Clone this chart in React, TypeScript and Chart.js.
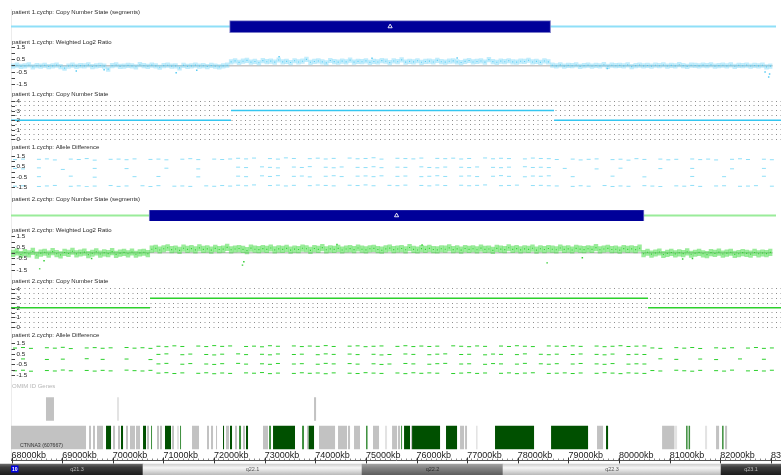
import React, { useEffect, useRef } from 'react';
import { Chart, registerables } from 'chart.js';

Chart.register(...registerables);

const W = 781;
const LEFT = 11;
const FONT = 'Arial, "Liberation Sans", Helvetica, sans-serif';

// ---- genomic view (kb) ----
const VIEW_START = 67990;
const VIEW_END = 83200;

// ---- copy number segments ----
const P1_SEG_START = [67990, 72336, 78717];
const P1_SEG_END = [72336, 78717, 83200];
const P1_SEG_CN = [2, 3, 2];
const P2_SEG_START = [67990, 70736, 80574];
const P2_SEG_END = [70736, 80574, 83200];
const P2_SEG_CN = [2, 3, 2];

// ---- tick marks ----
const LOG2_TICKS = [1.5, 1, 0.5, 0, -0.5, -1, -1.5];
const LOG2_TICK_LABELS = ['1.5', '', '0.5', '', '-0.5', '', '-1.5'];
const CN_TICKS = [4, 3.5, 3, 2.5, 2, 1.5, 1, 0.5, 0];
const CN_TICK_LABELS = ['4', '', '3', '', '2', '', '1', '', '0'];
const RULER_MINOR_KB = 100;
const RULER_LABEL_KB = [68000, 69000, 70000, 71000, 72000, 73000, 74000, 75000, 76000, 77000, 78000, 79000, 80000, 81000, 82000, 83000];
const RULER_LABELS = RULER_LABEL_KB.map((v) => `${v}kb`);

// ---- weighted log2 ratio probes (kb grid) ----
const LOG2_START = 68030;
const LOG2_STEP = 79.2;
const P1_LOG2 = [
  -.05, .02, -.08, -.03, .04, -.12, -.02, -.06, .01, -.09,
  -.04, .03, -.1, -.22, -.05, .02, -.07, -.01, -.04, .05,
  -.09, -.03, .0, -.06, -.3, -.02, .04, -.08, -.05, .01,
  -.03, -.11, .06, -.02, -.07, .03, -.04, -.15, -.01, .02,
  -.06, -.03, -.2, .01, -.08, -.04, .03, -.05, -.02, -.09,
  .0, -.06, -.12, -.03, .02,
  .3, .38, .25, .35, .42, .28, .33, .22, .4, .31,
  .36, .27, .45, .3, .34, .24, .39, .29, .35, .5,
  .26, .33, .37, .3, .21, .41, .32, .28, .36, .3,
  .44, .27, .34, .31, .38, .25, .33, .29, .4, .35,
  .23, .37, .31, .46, .28, .34, .3, .39, .26, .33,
  .36, .29, .42, .31, .27, .35, .38, .3, .24, .34,
  .41, .29, .33, .37, .28, .48, .32, .26, .36, .31,
  .39, .3, .27, .35, .33, .43, .29, .34, .25, .37,
  .3,
  .02, -.04, .05, -.06, .01, -.02, .04, -.08, -.01, .03,
  -.05, .0, -.03, .06, -.07, .02, -.02, .01, -.04, .05,
  -.1, -.01, .03, -.03, .0, -.06, .02, -.02, .04, -.05,
  .01, -.03, .06, -.01, -.08, .02, .0, -.04, .03, -.02,
  .05, -.06, -.01, .02, -.03, .04, -.07, .01, -.02, .03,
  -.05, .0, -.04, .02, -.12, -.06,
];
const P1_LOG2_OUT_KB = [69294, 69850, 71289, 71700, 73344, 75200, 76900, 79900, 83050, 83122, 83140];
const P1_LOG2_OUT_VAL = [-.45, -.35, -.6, -.4, .72, .6, .62, -.25, -.55, -.95, -.7];

const P2_LOG2 = [
  -.05, .08, -.15, .02, -.1, .12, -.2, -.03, .05, -.12,
  .1, -.08, -.18, .03, -.06, .14, -.1, -.02, .06, -.16,
  -.04, .09, -.11, .0, -.07, .11, -.14, -.03, .04, -.09,
  .07, -.13, -.01, .05, -.08,
  .32, .4, .25, .36, .45, .28, .34, .22, .41, .3,
  .37, .26, .44, .31, .35, .24, .39, .29, .33, .48,
  .27, .34, .38, .3, .2, .42, .32, .28, .37, .31,
  .43, .26, .35, .3, .39, .24, .33, .29, .41, .36,
  .22, .38, .3, .46, .27, .35, .31, .4, .25, .34,
  .37, .28, .43, .32, .26, .36, .39, .29, .23, .35,
  .42, .28, .34, .38, .27, .47, .31, .25, .37, .3,
  .4, .29, .26, .36, .32, .44, .28, .35, .24, .38,
  .31, .36, .27, .42, .3, .34, .22, .39, .33, .28,
  .45, .3, .37, .26, .35, .31, .41, .24, .36, .29,
  .38, .32, .27, .43, .3, .35, .25, .4, .33, .28,
  .36, .3, .46, .27, .34, .39, .29, .32, .24, .37,
  .31, .35, .28, .41,
  -.08, .05, -.12, -.02, .07, -.15, -.05, .03, -.1, .0,
  -.07, .09, -.13, -.04, .04, -.09, -.16, .02, -.06, .06,
  -.11, -.03, .05, -.14, -.08, .01, -.05, -.12, .03, -.09,
  -.02, -.07, .04,
];
const P2_LOG2_OUT_KB = [68563, 68650, 69600, 72613, 72640, 74500, 76200, 78697, 79400, 81404, 81600];
const P2_LOG2_OUT_VAL = [-1.45, -.7, -.5, -1.1, -.8, .75, .7, -.9, -.45, -.55, -.5];

// ---- allele difference bands (kb grid, empty = no call) ----
const AD_START = 68070;
const AD_STEP = 158.4;
const P1_AD_TOP = [
  1.15,1.2,,1.18,1.22,1.12,,1.2,1.16,1.25,1.1,,1.18,1.2,1.14,1.22,,1.17,1.2,1.13,,1.19,1.24,1.15,,1.2,1.16,1.21,
  1.28,1.22,1.3,,1.25,1.2,1.32,1.26,,1.24,1.29,1.21,1.27,,1.3,1.23,1.26,1.33,1.2,,1.28,1.25,1.22,1.3,,1.27,1.24,1.29,1.21,1.26,,1.31,1.23,1.28,1.25,,1.22,1.3,1.26,1.24,
  1.16,,1.2,1.12,1.18,1.22,,1.15,1.19,1.1,1.24,1.17,,1.2,1.13,1.18,,1.21,1.15,1.2,1.12,,1.18,1.23,1.16,,1.19,1.14,
];
const P1_AD_MIDHI = [
  .3,.25,,.35,,,.2,,,,.3,,,,.28,,,,,.32,,,,.25,,,,,
  .42,.38,,.45,.4,.35,,.43,.39,.47,,.41,.36,.44,,.4,.38,.46,.37,,.42,.4,,.45,.39,.36,.43,,.41,.38,.44,,.4,.37,.42,,.46,.39,.41,.38,
  ,.3,,,,.25,,,.32,,,,,.28,,,,.3,,,,,.26,,,,.3,
];
const P1_AD_MIDLO = [
  ,,,-.5,,,,-.45,,,-.55,,,,,-.5,,,-.48,,,,,-.52,,,,,
  -.45,-.5,,-.42,-.48,-.4,,-.47,-.44,-.52,,-.46,-.41,-.49,,-.45,-.43,-.5,-.42,,-.47,-.44,,-.5,-.46,-.41,-.48,,-.45,-.43,-.49,,-.46,-.4,-.47,,-.51,-.44,-.46,-.42,
  ,,-.5,,,,,-.45,,,,-.52,,,,,,-.48,,,,-.5,,,,,-.46,
];
const P1_AD_BOTTOM = [
  -1.42,-1.38,,-1.45,-1.4,-1.35,,-1.43,-1.39,-1.47,-1.41,,-1.36,-1.44,-1.4,,-1.38,-1.46,-1.37,,-1.42,-1.4,-1.44,,-1.39,-1.43,-1.36,-1.41,
  -1.33,-1.38,-1.3,,-1.36,-1.32,-1.4,-1.34,,-1.37,-1.31,-1.35,-1.39,,-1.33,-1.36,-1.3,-1.38,,-1.34,-1.37,-1.32,,-1.35,-1.39,-1.31,-1.36,,-1.33,-1.38,-1.34,-1.3,,-1.37,-1.35,-1.32,,-1.36,-1.34,-1.38,
  -1.4,,-1.44,-1.38,-1.42,,-1.36,-1.45,-1.4,-1.43,,-1.37,-1.41,-1.46,,-1.39,-1.42,-1.35,-1.44,,-1.4,-1.38,,-1.43,-1.41,-1.37,,-1.42,
];
const P2_AD_TOP = [
  1.05,1.1,1.02,,1.08,1.04,1.12,1.0,,1.06,1.09,1.03,1.07,,1.1,1.04,1.08,1.02,
  1.22,1.18,1.26,1.2,,1.24,1.19,1.28,1.21,1.25,,1.2,1.23,1.17,1.27,1.22,,1.25,1.19,1.24,1.21,1.28,1.2,,1.23,1.26,1.18,1.22,1.25,,1.21,1.27,1.19,1.24,1.2,1.23,,1.26,1.22,1.18,1.25,1.21,,1.24,1.2,1.27,1.22,1.19,,1.25,1.23,1.2,1.26,1.21,,1.24,1.18,1.22,1.27,1.2,1.23,1.25,
  1.06,1.02,,1.09,1.04,1.1,1.01,,1.07,1.03,1.08,,1.05,1.1,1.02,1.06,
];
const P2_AD_MIDHI = [
  ,.02,,,-.03,,.0,,,.04,,-.02,,,.01,,,-.04,
  .45,.5,,.42,.48,,.44,.4,.47,,.5,.43,,.46,.41,.49,,.44,.47,,.42,.5,.45,,.48,.43,,.46,.4,.44,,.49,.45,,.42,.47,.5,,.44,.46,,.41,.48,.45,,.43,.5,,.46,.42,.47,,.44,.49,,.45,.41,.48,,.43,.46,.44,
  ,.03,,-.02,,,.01,,-.04,,,.02,,,-.01,
];
const P2_AD_MIDLO = [
  ,,,,,,,,,,,,,,,,,,
  -.45,-.4,,-.48,-.42,,-.46,-.5,-.43,,-.4,-.47,,-.44,-.49,-.41,,-.46,-.43,,-.48,-.4,-.45,,-.42,-.47,,-.44,-.5,-.46,,-.41,-.45,,-.48,-.43,-.4,,-.46,-.44,,-.49,-.42,-.45,,-.47,-.4,,-.44,-.48,-.43,,-.46,-.41,,-.45,-.49,-.42,,-.47,-.44,-.46,
];
const P2_AD_BOTTOM = [
  -1.1,-1.05,-1.14,,-1.08,-1.12,-1.03,-1.1,,-1.07,-1.13,-1.06,-1.11,,-1.04,-1.09,-1.12,-1.06,
  -1.32,-1.28,-1.36,-1.3,,-1.34,-1.29,-1.38,-1.31,-1.35,,-1.3,-1.33,-1.27,-1.37,-1.32,,-1.35,-1.29,-1.34,-1.31,-1.38,-1.3,,-1.33,-1.36,-1.28,-1.32,-1.35,,-1.31,-1.37,-1.29,-1.34,-1.3,-1.33,,-1.36,-1.32,-1.28,-1.35,-1.31,,-1.34,-1.3,-1.37,-1.32,-1.29,,-1.35,-1.33,-1.3,-1.36,-1.31,,-1.34,-1.28,-1.32,-1.37,-1.3,-1.33,-1.35,
  -1.08,-1.12,,-1.05,-1.1,-1.14,-1.06,,-1.09,-1.13,-1.04,,-1.11,-1.07,-1.12,-1.05,
];

// ---- OMIM genes [start kb, end kb] ----
const GENE_ROWS = ['upper', 'lower'];
const GENES_UPPER_GRAY = [[68681, 68839], [73976, 74016]];
const GENES_UPPER_LIGHT = [[70084, 70124]];
const GENES_LOWER_GRAY = [
  [67990, 69472], [69531, 69570], [69610, 69649], [69689, 69807], [70005, 70045], [70104, 70144],
  [70262, 70301], [70341, 70440], [70459, 70538], [70677, 70716], [70874, 70914], [70933, 70973],
  [71171, 71210], [71566, 71704], [71862, 71901], [71941, 71981], [72040, 72060], [72237, 72297],
  [72415, 72455], [72573, 72613], [72968, 73067], [73837, 73857], [74075, 74391], [74450, 74628],
  [74647, 74687], [74766, 74884], [75141, 75260], [75517, 75616], [75635, 75675], [75892, 75912],
  [76860, 76939], [76959, 76998], [79566, 79685], [80851, 81088], [81917, 81977], [82095, 82135],
];
const GENES_LOWER_LIGHT = [[71269, 71309], [75378, 75418], [77176, 77206], [81088, 81147], [81700, 81740]];
const GENES_LOWER_DARK = [
  [69867, 69966], [70163, 70203], [70598, 70657], [71032, 71151], [72178, 72198], [72316, 72356],
  [72632, 72672], [73166, 73600], [73867, 73976], [75754, 75872], [75912, 76465], [76583, 76801],
  [77551, 78322], [78658, 79389], [79744, 79784],
];
const GENES_LOWER_GREEN = [
  [70756, 70775], [71329, 71348], [72494, 72534], [73087, 73126], [73739, 73778], [75003, 75033],
  [75695, 75714], [81325, 81355], [81375, 81404], [82036, 82066],
];
const GENE_LABELS = ['CTNNA3 (607667)'];
const GENE_LABEL_START = [67990];

// ---- cytobands ----
const CHROM = '10';
const BAND_NAMES = ['q21.3', 'q22.1', 'q22.2', 'q22.3', 'q23.1'];
const BAND_START = [66000, 70598, 74924, 77709, 82016];
const BAND_END = [70598, 74924, 77709, 82016, 84500];
const BAND_STAIN = ['dark', 'light', 'mid', 'light', 'dark'];

const STAIN_STOPS: Record<string, [number, string][]> = {
  dark: [[0, '#6a6a6a'], [0.3, '#3c3c3c'], [1, '#1c1c1c']],
  light: [[0, '#d0d0d0'], [0.35, '#f6f6f6'], [1, '#b8b8b8']],
  mid: [[0, '#a2a2a2'], [0.35, '#858585'], [1, '#5c5c5c']],
};
const STAIN_TEXT: Record<string, string> = { dark: '#b8b8b8', light: '#555555', mid: '#2a2a2a' };

const P1_COLOR = '#35c6f0';
const P1_LIGHT = '#8fdff8';
const P1_HAZE = 'rgba(110,212,247,0.42)';
const P1_DOT = 'rgba(45,190,240,0.8)';
const P2_COLOR = '#2cd02c';
const P2_LIGHT = '#9aec9a';
const P2_HAZE = 'rgba(55,218,55,0.5)';
const P2_DOT = 'rgba(30,200,30,0.9)';

// ---------------------------------------------------------------

function baseOptions(padTop: number, padBottom: number, y: any, extra: any = {}) {
  return {
    responsive: false,
    animation: false,
    events: [],
    layout: { padding: { left: LEFT, right: 0, top: padTop, bottom: padBottom } },
    plugins: { legend: { display: false }, tooltip: { enabled: false }, title: { display: false } },
    scales: { x: { type: 'linear', min: VIEW_START, max: VIEW_END, display: false }, y },
    ...extra,
  };
}

function trackDeco(title: string, titleY: number, ticks: number[] | null, labels: string[] | null, titleColor = '#2a2a2a') {
  return {
    id: 'trackDeco',
    afterDraw(chart: any) {
      const { ctx, chartArea } = chart;
      ctx.save();
      ctx.textAlign = 'left';
      ctx.textBaseline = 'middle';
      ctx.fillStyle = titleColor;
      ctx.font = `6px ${FONT}`;
      ctx.fillText(title, chartArea.left + 1, titleY);
      if (ticks && labels) {
        const ys = chart.scales.y;
        ctx.strokeStyle = '#444';
        ctx.lineWidth = 1;
        ctx.fillStyle = '#222';
        ctx.font = `6.2px ${FONT}`;
        ticks.forEach((v, i) => {
          const py = Math.round(ys.getPixelForValue(v)) + 0.5;
          ctx.beginPath();
          ctx.moveTo(chartArea.left + 0.5, py);
          ctx.lineTo(chartArea.left + 4, py);
          ctx.stroke();
          if (labels[i]) ctx.fillText(labels[i], chartArea.left + 5.5, py);
        });
      }
      ctx.restore();
    },
  };
}

function segConfig(starts: number[], ends: number[], cns: number[], lineColor: string, title: string, titleY: number, padTop: number, padBottom: number) {
  const idx = cns.map((_, i) => i).filter((i) => cns[i] !== 2);
  return {
    type: 'bar',
    data: {
      labels: ['seg'],
      datasets: [
        {
          type: 'scatter', indexAxis: 'x', order: 0,
          data: idx.map((i) => ({ x: (starts[i] + ends[i]) / 2, y: 'seg' })),
          pointStyle: 'triangle', pointRadius: 2.4, borderColor: '#ffffff', borderWidth: 0.9,
          backgroundColor: 'rgba(0,0,0,0)',
        },
        {
          order: 1, grouped: false,
          data: idx.map((i) => ({ y: 'seg', x: [starts[i], ends[i]] })),
          backgroundColor: '#000099', borderColor: '#7a7ac8', borderWidth: 1, borderSkipped: false, barThickness: 12,
        },
        {
          order: 2, grouped: false,
          data: [{ y: 'seg', x: [VIEW_START, VIEW_END] }],
          backgroundColor: lineColor, borderWidth: 0, barThickness: 1.2,
        },
      ],
    },
    options: baseOptions(padTop, padBottom, { type: 'category', display: false }, { indexAxis: 'y' }),
    plugins: [trackDeco(title, titleY, null, null)],
  };
}

function log2Config(values: number[], outKb: number[], outVal: number[], haze: string, dot: string, dash: number, title: string, titleY: number, padTop: number, padBottom: number) {
  const pts = values.map((v, i) => ({ x: LOG2_START + i * LOG2_STEP, y: v }));
  return {
    type: 'scatter',
    data: {
      datasets: [
        { data: pts, pointStyle: 'line', rotation: 90, pointRadius: dash, borderColor: haze, borderWidth: 4.4 },
        { data: pts, pointStyle: 'rect', pointRadius: 0.8, backgroundColor: dot, borderWidth: 0 },
        {
          data: outKb.map((x, i) => ({ x, y: outVal[i] })),
          pointStyle: 'rect', pointRadius: 1.05, backgroundColor: dot, borderWidth: 0,
        },
      ],
    },
    options: baseOptions(padTop, padBottom, {
      type: 'linear', min: -1.5, max: 1.5,
      ticks: { display: false, stepSize: 0.5 },
      grid: {
        drawTicks: false, lineWidth: 1.5,
        color: (c: any) => (c.tick && c.tick.value === 0 ? '#c6c6c6' : 'rgba(0,0,0,0)'),
      },
      border: { display: false },
    }),
    plugins: [trackDeco(title, titleY, LOG2_TICKS, LOG2_TICK_LABELS)],
  };
}

function cnConfig(starts: number[], ends: number[], cns: number[], color: string, title: string, titleY: number, padTop: number, padBottom: number) {
  const pts: any[] = [];
  starts.forEach((s, i) => {
    pts.push({ x: s, y: cns[i] }, { x: ends[i], y: cns[i] }, { x: ends[i], y: null });
  });
  return {
    type: 'line',
    data: { datasets: [{ data: pts, borderColor: color, borderWidth: 1.5, pointRadius: 0, spanGaps: false, fill: false }] },
    options: baseOptions(padTop, padBottom, {
      type: 'linear', min: CN_TICKS[CN_TICKS.length - 1], max: CN_TICKS[0],
      ticks: { display: false, stepSize: 0.5 },
      grid: { color: '#8e8e8e', lineWidth: 1, drawTicks: false },
      border: { display: false, dash: [1, 3.5] },
    }),
    plugins: [trackDeco(title, titleY, CN_TICKS, CN_TICK_LABELS)],
  };
}

function adConfig(bands: any[][], color: string, title: string, titleY: number, padTop: number, padBottom: number) {
  return {
    type: 'scatter',
    data: {
      datasets: bands.map((b) => ({
        data: Array.from(b, (v: any, i: number) => (v === undefined || v === null ? null : { x: AD_START + i * AD_STEP, y: v })).filter(Boolean),
        pointStyle: 'line', pointRadius: 2, borderColor: color, borderWidth: 1,
      })),
    },
    options: baseOptions(padTop, padBottom, { type: 'linear', min: -1.5, max: 1.5, display: false }),
    plugins: [trackDeco(title, titleY, LOG2_TICKS, LOG2_TICK_LABELS)],
  };
}

const geneLabelPlugin = {
  id: 'geneLabels',
  afterDatasetsDraw(chart: any) {
    const { ctx, chartArea, scales } = chart;
    ctx.save();
    ctx.font = `5.2px ${FONT}`;
    ctx.fillStyle = '#333';
    ctx.textBaseline = 'middle';
    ctx.textAlign = 'left';
    GENE_LABELS.forEach((name, i) => {
      const x0 = Math.max(chartArea.left, scales.x.getPixelForValue(GENE_LABEL_START[i]));
      const yc = scales.y.getPixelForValue(1);
      ctx.fillText(name, x0 + 9, yc + 8);
    });
    ctx.restore();
  },
};

function genesConfig() {
  const mk = (pairs: number[][], row: string) => pairs.map((p) => ({ y: row, x: [p[0], p[1]] }));
  const sets = [
    { data: [...mk(GENES_UPPER_GRAY, 'upper'), ...mk(GENES_LOWER_GRAY, 'lower')], backgroundColor: '#c2c2c2' },
    { data: [...mk(GENES_UPPER_LIGHT, 'upper'), ...mk(GENES_LOWER_LIGHT, 'lower')], backgroundColor: '#e3e3e3' },
    { data: mk(GENES_LOWER_DARK, 'lower'), backgroundColor: '#005000' },
    { data: mk(GENES_LOWER_GREEN, 'lower'), backgroundColor: '#3d8f3d' },
  ];
  return {
    type: 'bar',
    data: {
      labels: GENE_ROWS,
      datasets: sets.map((d) => ({ ...d, grouped: false, borderWidth: 0, barPercentage: 0.82, categoryPercentage: 1, minBarLength: 1 })),
    },
    options: baseOptions(14.75, 0.25, { type: 'category', display: false }, { indexAxis: 'y' }),
    plugins: [trackDeco('OMIM ID Genes', 6.7, null, null, '#b5b5b5'), geneLabelPlugin],
  };
}

const rulerLabelPlugin = {
  id: 'rulerLabels',
  afterDraw(chart: any) {
    const { ctx, scales } = chart;
    const xs = scales.x;
    ctx.save();
    ctx.font = `9px ${FONT}`;
    ctx.fillStyle = '#1a1a1a';
    ctx.textAlign = 'left';
    ctx.textBaseline = 'middle';
    RULER_LABEL_KB.forEach((v, i) => {
      const px = xs.getPixelForValue(v);
      ctx.fillText(RULER_LABELS[i], px, 9.5);
      ctx.strokeStyle = '#333';
      ctx.lineWidth = 1;
      ctx.beginPath();
      ctx.moveTo(Math.round(px) + 0.5, xs.bottom - 3);
      ctx.lineTo(Math.round(px) + 0.5, xs.bottom + 3);
      ctx.stroke();
    });
    ctx.restore();
  },
};

function rulerConfig() {
  return {
    type: 'scatter',
    data: { datasets: [] },
    options: {
      responsive: false,
      animation: false,
      events: [],
      layout: { padding: { left: LEFT, right: 0, top: 12.5, bottom: 1 } },
      plugins: { legend: { display: false }, tooltip: { enabled: false } },
      scales: {
        x: {
          type: 'linear', position: 'top', min: VIEW_START, max: VIEW_END,
          ticks: { display: false, stepSize: RULER_MINOR_KB, includeBounds: false, autoSkip: false },
          grid: { drawOnChartArea: false, tickLength: 2, lineWidth: 1, tickColor: '#8a8a8a' },
          border: { display: true, color: '#555', width: 1 },
        },
        y: { display: false, min: 0, max: 1 },
      },
    },
    plugins: [rulerLabelPlugin],
  };
}

function bandGradient(chart: any, stain: string) {
  const area = chart.chartArea;
  if (!area) return '#888';
  const g = chart.ctx.createLinearGradient(0, area.top, 0, area.bottom);
  STAIN_STOPS[stain].forEach(([o, c]) => g.addColorStop(o, c));
  return g;
}

const bandLabelPlugin = {
  id: 'bandLabels',
  afterDatasetsDraw(chart: any) {
    const { ctx, chartArea, scales } = chart;
    const yc = (chartArea.top + chartArea.bottom) / 2;
    ctx.save();
    ctx.font = `5.5px ${FONT}`;
    ctx.textAlign = 'center';
    ctx.textBaseline = 'middle';
    BAND_NAMES.forEach((name, i) => {
      const a = Math.max(chartArea.left, scales.x.getPixelForValue(BAND_START[i]));
      const b = Math.min(chartArea.right, scales.x.getPixelForValue(BAND_END[i]));
      ctx.fillStyle = STAIN_TEXT[BAND_STAIN[i]];
      ctx.fillText(name, (a + b) / 2, yc);
    });
    ctx.fillStyle = '#0000dd';
    ctx.fillRect(chartArea.left, chartArea.top + 1.5, 7.5, 7);
    ctx.fillStyle = '#ffffff';
    ctx.font = `bold 5px ${FONT}`;
    ctx.fillText(CHROM, chartArea.left + 3.75, chartArea.top + 5.2);
    ctx.restore();
  },
};

function bandConfig() {
  return {
    type: 'bar',
    data: {
      labels: ['band'],
      datasets: [
        {
          data: BAND_START.map((s, i) => ({ y: 'band', x: [s, BAND_END[i]] })),
          backgroundColor: (c: any) => bandGradient(c.chart, BAND_STAIN[c.dataIndex]),
          borderWidth: 0, barPercentage: 1, categoryPercentage: 1, clip: false,
        },
      ],
    },
    options: baseOptions(1, 0, { type: 'category', display: false }, { indexAxis: 'y' }),
    plugins: [bandLabelPlugin],
  };
}

// ---------------------------------------------------------------

const TRACKS: { top: number; height: number; make: () => any }[] = [
  { top: 0, height: 38, make: () => segConfig(P1_SEG_START, P1_SEG_END, P1_SEG_CN, P1_LIGHT, 'patient 1.cychp: Copy Number State (segments)', 12, 20, 0) },
  { top: 36, height: 56, make: () => log2Config(P1_LOG2, P1_LOG2_OUT_KB, P1_LOG2_OUT_VAL, P1_HAZE, P1_DOT, 2.6, 'patient 1.cychp: Weighted Log2 Ratio', 6, 11.3, 5.3) },
  { top: 88, height: 54, make: () => cnConfig(P1_SEG_START, P1_SEG_END, P1_SEG_CN, P1_COLOR, 'patient 1.cychp: Copy Number State', 6, 13, 2.7) },
  { top: 140, height: 52, make: () => adConfig([P1_AD_TOP, P1_AD_MIDHI, P1_AD_MIDLO, P1_AD_BOTTOM], P1_LIGHT, 'patient 1.cychp: Allele Difference', 7, 16, 4) },
  { top: 192, height: 34, make: () => segConfig(P2_SEG_START, P2_SEG_END, P2_SEG_CN, P2_LIGHT, 'patient 2.cychp: Copy Number State (segments)', 7, 18, 0) },
  { top: 224, height: 54, make: () => log2Config(P2_LOG2, P2_LOG2_OUT_KB, P2_LOG2_OUT_VAL, P2_HAZE, P2_DOT, 3.6, 'patient 2.cychp: Weighted Log2 Ratio', 6, 12, 3.7) },
  { top: 275, height: 55, make: () => cnConfig(P2_SEG_START, P2_SEG_END, P2_SEG_CN, P2_COLOR, 'patient 2.cychp: Copy Number State', 6, 13.7, 3) },
  { top: 328, height: 52, make: () => adConfig([P2_AD_TOP, P2_AD_MIDHI, P2_AD_MIDLO, P2_AD_BOTTOM], P2_COLOR, 'patient 2.cychp: Allele Difference', 7, 15.3, 3.3) },
  { top: 380, height: 72, make: genesConfig },
  { top: 446, height: 18, make: rulerConfig },
  { top: 463, height: 12, make: bandConfig },
];

function ChartCanvas({ top, height, make }: { top: number; height: number; make: () => any }) {
  const ref = useRef<HTMLCanvasElement | null>(null);
  useEffect(() => {
    const chart = new Chart(ref.current as HTMLCanvasElement, make());
    return () => chart.destroy();
  }, [make]);
  return (
    <canvas
      ref={ref}
      width={W}
      height={height}
      style={{ position: 'absolute', left: 0, top, width: W, height, display: 'block' }}
    />
  );
}

export default function App() {
  return (
    <div style={{ position: 'absolute', left: 0, top: 0, width: W, height: 475, background: '#ffffff', overflow: 'hidden' }}>
      <div style={{ position: 'absolute', left: LEFT, top: 9, width: 1, height: 452, background: '#ececec' }} />
      {TRACKS.map((t, i) => (
        <ChartCanvas key={i} top={t.top} height={t.height} make={t.make} />
      ))}
    </div>
  );
}
